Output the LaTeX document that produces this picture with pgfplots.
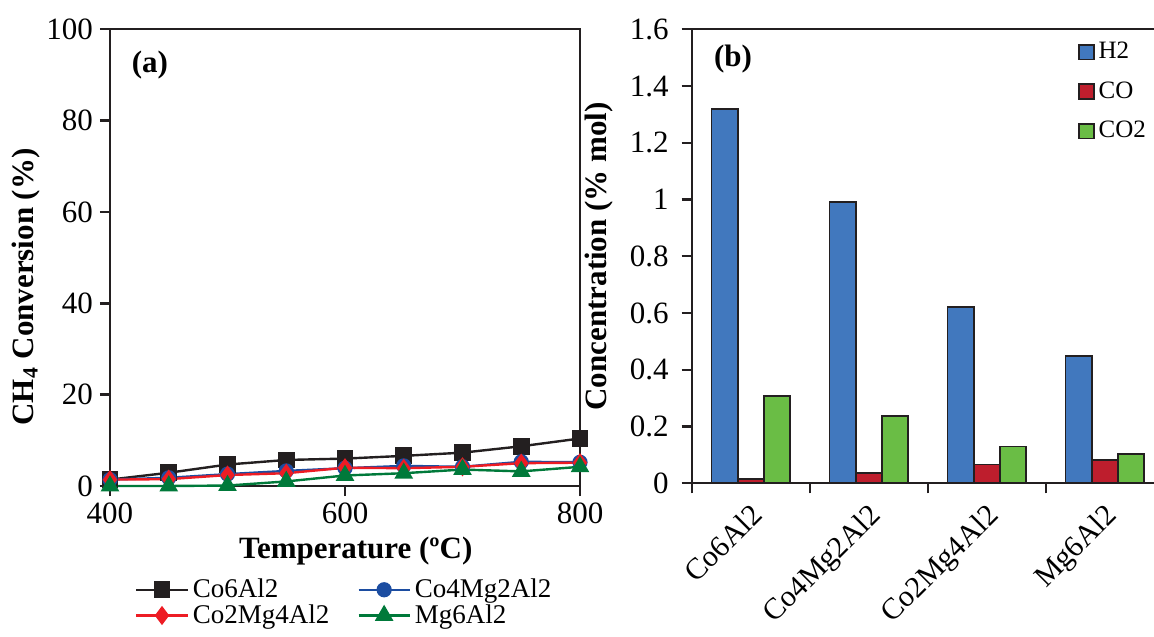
\documentclass[border=0pt]{standalone}
\usepackage{fontspec}
\setmainfont{Liberation Serif}
\usepackage{pgfplots}
\pgfplotsset{compat=1.18}
\definecolor{cblack}{HTML}{231F20}
\definecolor{cblue}{HTML}{1C4DA1}
\definecolor{cred}{HTML}{ED1C24}
\definecolor{cgreen}{HTML}{00793A}
\definecolor{bblue}{HTML}{4178BE}
\definecolor{bred}{HTML}{BE1E2D}
\definecolor{bgreen}{HTML}{6ABD45}
\begin{document}
\begin{tikzpicture}
\pgfplotsset{
  every axis/.append style={
    font=\fontsize{15.5}{18}\selectfont,
    /pgf/number format/assume math mode=true,
    tick align=outside, major tick length=5pt, minor tick length=5pt,
    axis line style={line width=1.2pt, draw=cblack},
    every tick/.style={line width=1.2pt, draw=cblack},
    tick pos=left,
    legend cell align=left,
  }
}
% ---------- (a) ----------
\begin{axis}[
  at={(55pt,75pt)}, anchor=south west, scale only axis,
  width=235pt, height=228.35pt,
  xmin=400, xmax=800, ymin=0, ymax=100,
  xtick={400,600,800}, ytick={0,20,40,60,80,100},
  clip=false,
  xlabel={\bfseries Temperature (ºC)},
  ylabel={\bfseries CH\textsubscript{4} Conversion (\%)},
  xlabel style={at={(axis description cs:0.523,-0.142)}, anchor=center},
  ylabel style={at={(axis description cs:-0.179,0.436)}, anchor=center, rotate=0},
  legend columns=2,
  legend style={draw=none, fill=none, at={(0.04,-0.185)}, anchor=north west,
    font=\fontsize{13.5}{15}\selectfont, row sep=-2pt,
    /tikz/every even column/.append style={column sep=12pt}},
  legend image code/.code={\draw[mark repeat=2,mark phase=2,#1] plot coordinates {(0cm,0cm) (0.45cm,0cm) (0.9cm,0cm)};},
  every axis plot/.append style={line width=1.2pt},
]
\addplot[cblack, mark=square*, mark size=3.6pt, mark options={solid}] coordinates {
(400,1.4) (450,2.9) (500,4.7) (550,5.7) (600,6.0) (650,6.6) (700,7.3) (750,8.7) (800,10.4)};
\addlegendentry{Co6Al2}
\addplot[cblue, mark=*, mark size=3.2pt] coordinates {
(400,1.4) (450,1.8) (500,2.6) (550,3.3) (600,3.9) (650,4.4) (700,4.2) (750,5.3) (800,5.2)};
\addlegendentry{Co4Mg2Al2}
\addplot[cred, mark=diamond*, mark size=3.8pt] coordinates {
(400,1.4) (450,1.5) (500,2.4) (550,2.8) (600,4.0) (650,3.9) (700,4.2) (750,5.0) (800,5.1)};
\addlegendentry{Co2Mg4Al2}
\addplot[cgreen, mark=triangle*, mark size=4.2pt] coordinates {
(400,0.0) (450,0.0) (500,0.1) (550,1.0) (600,2.3) (650,2.8) (700,3.6) (750,3.2) (800,4.2)};
\addlegendentry{Mg6Al2}
\node[font=\fontsize{15.5}{18}\selectfont\bfseries] at (axis description cs:0.085,0.922) {(a)};
\end{axis}
% ---------- (b) ----------
\begin{axis}[
  at={(345.85pt,76.35pt)}, anchor=south west, scale only axis,
  width=236pt, height=227pt,
  xmin=-0.5, xmax=3.5, ymin=0, ymax=1.6,
  ybar=0pt, bar width=13.1pt,
  xtick={0,1,2,3},
  xticklabels={Co6Al2,Co4Mg2Al2,Co2Mg4Al2,Mg6Al2},
  minor xtick={-0.5,0.5,1.5,2.5},
  major x tick style={draw=none},
  xticklabel style={rotate=45, anchor=north east, xshift=0pt, yshift=1pt, font=\fontsize{15}{18}\selectfont},
  ytick={0,0.2,0.4,0.6,0.8,1,1.2,1.4,1.6},
  yticklabel style={/pgf/number format/fixed, /pgf/number format/precision=1, xshift=-3pt},
  ylabel={\bfseries Concentration (\% mol)},
  ylabel style={at={(axis description cs:-0.196,0.50)}, anchor=center, rotate=0},
  clip=false,
  legend style={draw=none, fill=none, at={(0.805,0.99)}, anchor=north west,
    font=\fontsize{12.5}{14}\selectfont, row sep=6pt},
  legend image code/.code={\draw[#1, line width=0.9pt] (0pt,-3.7pt) rectangle (7.4pt,3.7pt);},
]
\addplot[draw=cblack, fill=bblue, line width=0.9pt, bar shift=-13.1pt] coordinates {(0,1.32) (1,0.99) (2,0.62) (3,0.449)};
\addlegendentry{H2}
\addplot[draw=cblack, fill=bred, line width=0.9pt, bar shift=0pt] coordinates {(0,0.014) (1,0.036) (2,0.066) (3,0.081)};
\addlegendentry{CO}
\addplot[draw=cblack, fill=bgreen, line width=0.9pt, bar shift=13.1pt] coordinates {(0,0.308) (1,0.237) (2,0.130) (3,0.102)};
\addlegendentry{CO2}
\node[font=\fontsize{15.5}{18}\selectfont\bfseries] at (axis description cs:0.0875,0.935) {(b)};
\end{axis}
\pgfresetboundingbox
\useasboundingbox (0pt,0pt) rectangle (577pt,318pt);
\end{tikzpicture}
\end{document}
